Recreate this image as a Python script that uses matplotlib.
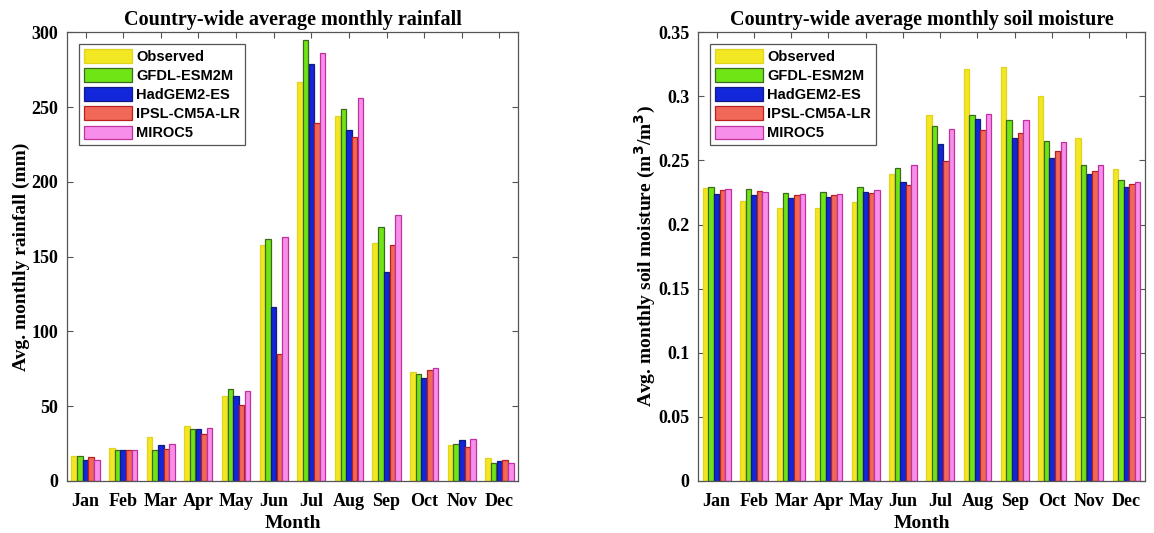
import matplotlib
matplotlib.use("Agg")
import matplotlib.pyplot as plt
import numpy as np

months = ["Jan", "Feb", "Mar", "Apr", "May", "Jun", "Jul", "Aug", "Sep", "Oct", "Nov", "Dec"]
series = ["Observed", "GFDL-ESM2M", "HadGEM2-ES", "IPSL-CM5A-LR", "MIROC5"]

rain_obs = [17.0, 21.8, 29.3, 36.9, 56.5, 158, 267, 244, 159, 72.6, 24.3, 15.6]
rain_gfdl = [16.4, 20.4, 20.4, 34.9, 61.4, 162, 295, 249, 170, 71.3, 24.7, 12.0]
rain_had = [14.2, 20.9, 24.0, 34.9, 56.5, 116, 279, 234.5, 140, 69.0, 27.6, 13.3]
rain_ipsl = [16.0, 20.9, 21.6, 31.3, 51.0, 85, 239, 230, 158, 74.0, 22.7, 14.0]
rain_miroc = [14.2, 20.7, 24.7, 35.4, 60.0, 163, 286, 256, 178, 75.3, 28.0, 11.7]

sm_obs = [0.2286, 0.2187, 0.2128, 0.2128, 0.2177, 0.2392, 0.2858, 0.3214, 0.3230, 0.3000, 0.2678, 0.2433]
sm_gfdl = [0.2296, 0.2275, 0.2245, 0.2252, 0.2291, 0.2443, 0.2766, 0.2856, 0.2814, 0.2655, 0.2461, 0.2348]
sm_had = [0.2237, 0.2229, 0.2210, 0.2218, 0.2252, 0.2330, 0.2628, 0.2825, 0.2678, 0.2523, 0.2392, 0.2296]
sm_ipsl = [0.2270, 0.2260, 0.2229, 0.2229, 0.2245, 0.2307, 0.2492, 0.2737, 0.2714, 0.2577, 0.2415, 0.2317]
sm_miroc = [0.2275, 0.2252, 0.2239, 0.2239, 0.2270, 0.2461, 0.2748, 0.2864, 0.2814, 0.2647, 0.2461, 0.2334]

rain_ticks = [0, 50, 100, 150, 200, 250, 300]
sm_ticks = [0, 0.05, 0.1, 0.15, 0.2, 0.25, 0.3, 0.35]
sm_tick_labels = ["0", "0.05", "0.1", "0.15", "0.2", "0.25", "0.3", "0.35"]

fills = ["#F3E622", "#6FE516", "#1226DA", "#F26858", "#F78EEA"]
edges = ["#E0D420", "#3C6A1C", "#101C80", "#B82020", "#C0309F"]

serif = "Liberation Serif"
sans = "Liberation Sans"

fig = plt.figure(figsize=(11.54, 5.33), dpi=100)
ax1 = fig.add_axes([0.0578, 0.0976, 0.3913, 0.8419])
ax2 = fig.add_axes([0.6049, 0.0976, 0.3874, 0.8419])

def draw(ax, data, ticks, ticklabels, ylim, title, ylabel, ylabelpad):
    x = np.arange(1, len(months) + 1)
    w = 0.145
    for i, (vals, fc, ec, name) in enumerate(zip(data, fills, edges, series)):
        ax.bar(x + (i - 2) * w * 1.04, vals, width=w, color=fc, edgecolor=ec,
               linewidth=0.9, label=name, zorder=2)
    ax.set_xlim(0.5, 12.5)
    ax.set_ylim(*ylim)
    ax.set_xticks(x)
    ax.set_xticklabels(months, fontfamily=serif, fontweight="bold", fontsize=13)
    ax.set_yticks(ticks)
    ax.set_yticklabels(ticklabels, fontfamily=serif, fontweight="bold", fontsize=13)
    ax.tick_params(direction="in", top=True, right=True, length=4, width=0.8,
                   color="#555555")
    ax.tick_params(axis="x", pad=9)
    ax.tick_params(axis="y", pad=6)
    for s in ax.spines.values():
        s.set_color("#555555")
        s.set_linewidth(0.9)
    ax.set_title(title, fontfamily=serif, fontweight="bold", fontsize=14.5, pad=5)
    ax.set_xlabel("Month", fontfamily=serif, fontweight="bold", fontsize=14, labelpad=3)
    ax.set_ylabel(ylabel, fontfamily=serif, fontweight="bold", fontsize=14, labelpad=ylabelpad)
    leg = ax.legend(loc="upper left", bbox_to_anchor=(0.01, 0.99),
                    prop={"family": sans, "weight": "bold", "size": 10.5},
                    handlelength=3.3, handleheight=1.05, handletextpad=0.3,
                    labelspacing=0.3, borderpad=0.35, borderaxespad=0.5,
                    fancybox=False, framealpha=1, edgecolor="#555555")
    leg.get_frame().set_linewidth(0.9)

draw(ax1, [rain_obs, rain_gfdl, rain_had, rain_ipsl, rain_miroc], rain_ticks,
     [str(t) for t in rain_ticks], (0, 300),
     "Country-wide average monthly rainfall", "Avg. monthly rainfall (mm)", 1)
draw(ax2, [sm_obs, sm_gfdl, sm_had, sm_ipsl, sm_miroc], sm_ticks, sm_tick_labels,
     (0, 0.35), "Country-wide average monthly soil moisture",
     "Avg. monthly soil moisture (m$^\\mathbf{3}$/m$^\\mathbf{3}$)", 0.5)

fig.savefig("out.png", dpi=100)
